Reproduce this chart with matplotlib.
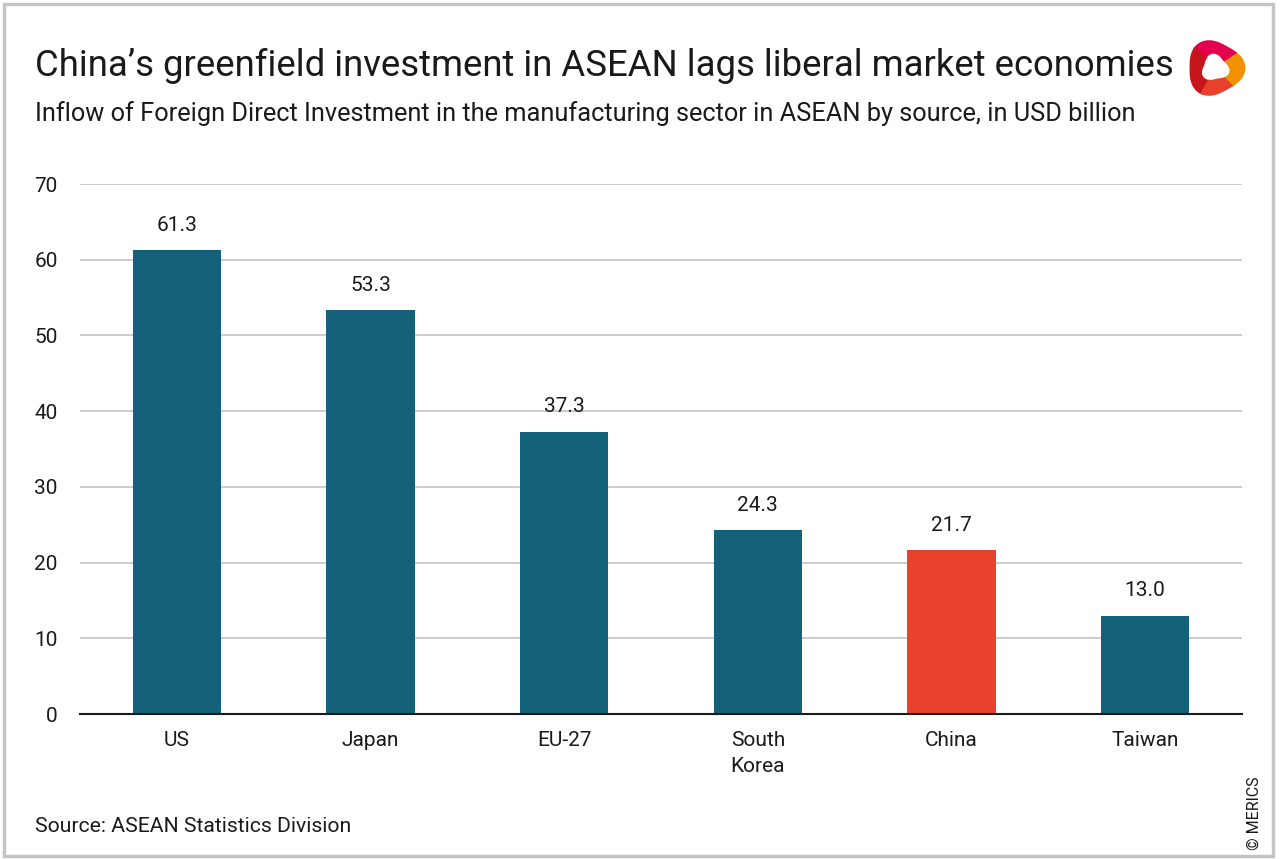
import numpy as np
import matplotlib.pyplot as plt
from matplotlib.patches import Rectangle, Polygon

sources = ['US', 'Japan', 'EU-27', 'South\nKorea', 'China', 'Taiwan']
fdi = [61.3, 53.3, 37.3, 24.3, 21.7, 13.0]
yticks = [0, 10, 20, 30, 40, 50, 60, 70]

teal = '#14617a'
red = '#e8412c'
colors = [red if s == 'China' else teal for s in sources]

plt.rcParams['font.family'] = ['Roboto', 'DejaVu Sans']

fig = plt.figure(figsize=(12.81, 8.59), dpi=100)

# outer frame
fig.patches.append(Rectangle((4 / 1281, 3 / 859), 1269 / 1281, 852 / 859,
                             transform=fig.transFigure, fill=False,
                             edgecolor='#c4c4c4', linewidth=2.5))

ax = fig.add_axes([80 / 1281, 1 - 714 / 859, 1162 / 1281, 530 / 859])
x = np.arange(len(sources))
ax.bar(x, fdi, width=0.455, color=colors, zorder=3)
for xi, v in zip(x, fdi):
    ax.text(xi, v + 2.0, '{:.1f}'.format(v), ha='center', va='bottom',
            fontsize=15, color='#1a1a1a')

ax.set_xlim(-0.5, len(sources) - 0.5)
ax.set_ylim(0, 70)
ax.set_yticks(yticks)
ax.set_xticks(x)
ax.set_xticklabels(sources, fontsize=15, color='#1a1a1a', linespacing=1.5)
ax.tick_params(axis='y', labelsize=15, length=0, pad=16, labelcolor='#1a1a1a')
ax.tick_params(axis='x', length=0, pad=12)
ax.grid(axis='y', color='#c8c8c8', linewidth=1.3, zorder=0)
for side in ['top', 'right', 'left']:
    ax.spines[side].set_visible(False)
ax.spines['bottom'].set_color('#1a1a1a')
ax.spines['bottom'].set_linewidth(1.5)
ax.spines['bottom'].set_zorder(4)

fig.text(35 / 1281, 1 - 66 / 859,
         'China\u2019s greenfield investment in ASEAN lags liberal market economies',
         fontsize=26.3, va='center', ha='left', color='#1a1a1a')
fig.text(35 / 1281, 1 - 114 / 859,
         'Inflow of Foreign Direct Investment in the manufacturing sector in ASEAN by source, in USD billion',
         fontsize=18.25, va='center', ha='left', color='#1a1a1a')
fig.text(35 / 1281, 1 - 826 / 859, 'Source: ASEAN Statistics Division',
         fontsize=15.2, va='center', ha='left', color='#1a1a1a')
fig.text(1254 / 1281, 1 - 813 / 859, '\u00a9 MERICS', fontsize=11.5,
         rotation=90, va='center', ha='center', color='#1a1a1a')

# logo: twisted ribbon ring
lax = fig.add_axes([1184 / 1281, 1 - 98 / 859, 62 / 1281, 60 / 859])
lax.set_xlim(-1, 1)
lax.set_ylim(-1, 1)
lax.axis('off')
segs = [(0.6, 2.4, '#e5004e'), (2.3, 4.3, '#c4161c'), (4.2, 5.6, '#e8412c'),
        (5.5, 6.9, '#f39200')]
for a0, a1, c in segs:
    tt = np.linspace(a0, a1, 60)
    ro = 0.9 + 0.08 * np.cos(3 * tt)
    ri = 0.42 + 0.06 * np.cos(3 * tt + 1)
    pts = np.concatenate([np.c_[ro * np.cos(tt), ro * np.sin(tt)],
                          np.c_[(ri * np.cos(tt))[::-1], (ri * np.sin(tt))[::-1]]])
    lax.add_patch(Polygon(pts, closed=True, color=c, lw=0))

fig.savefig('out.png', dpi=100)
